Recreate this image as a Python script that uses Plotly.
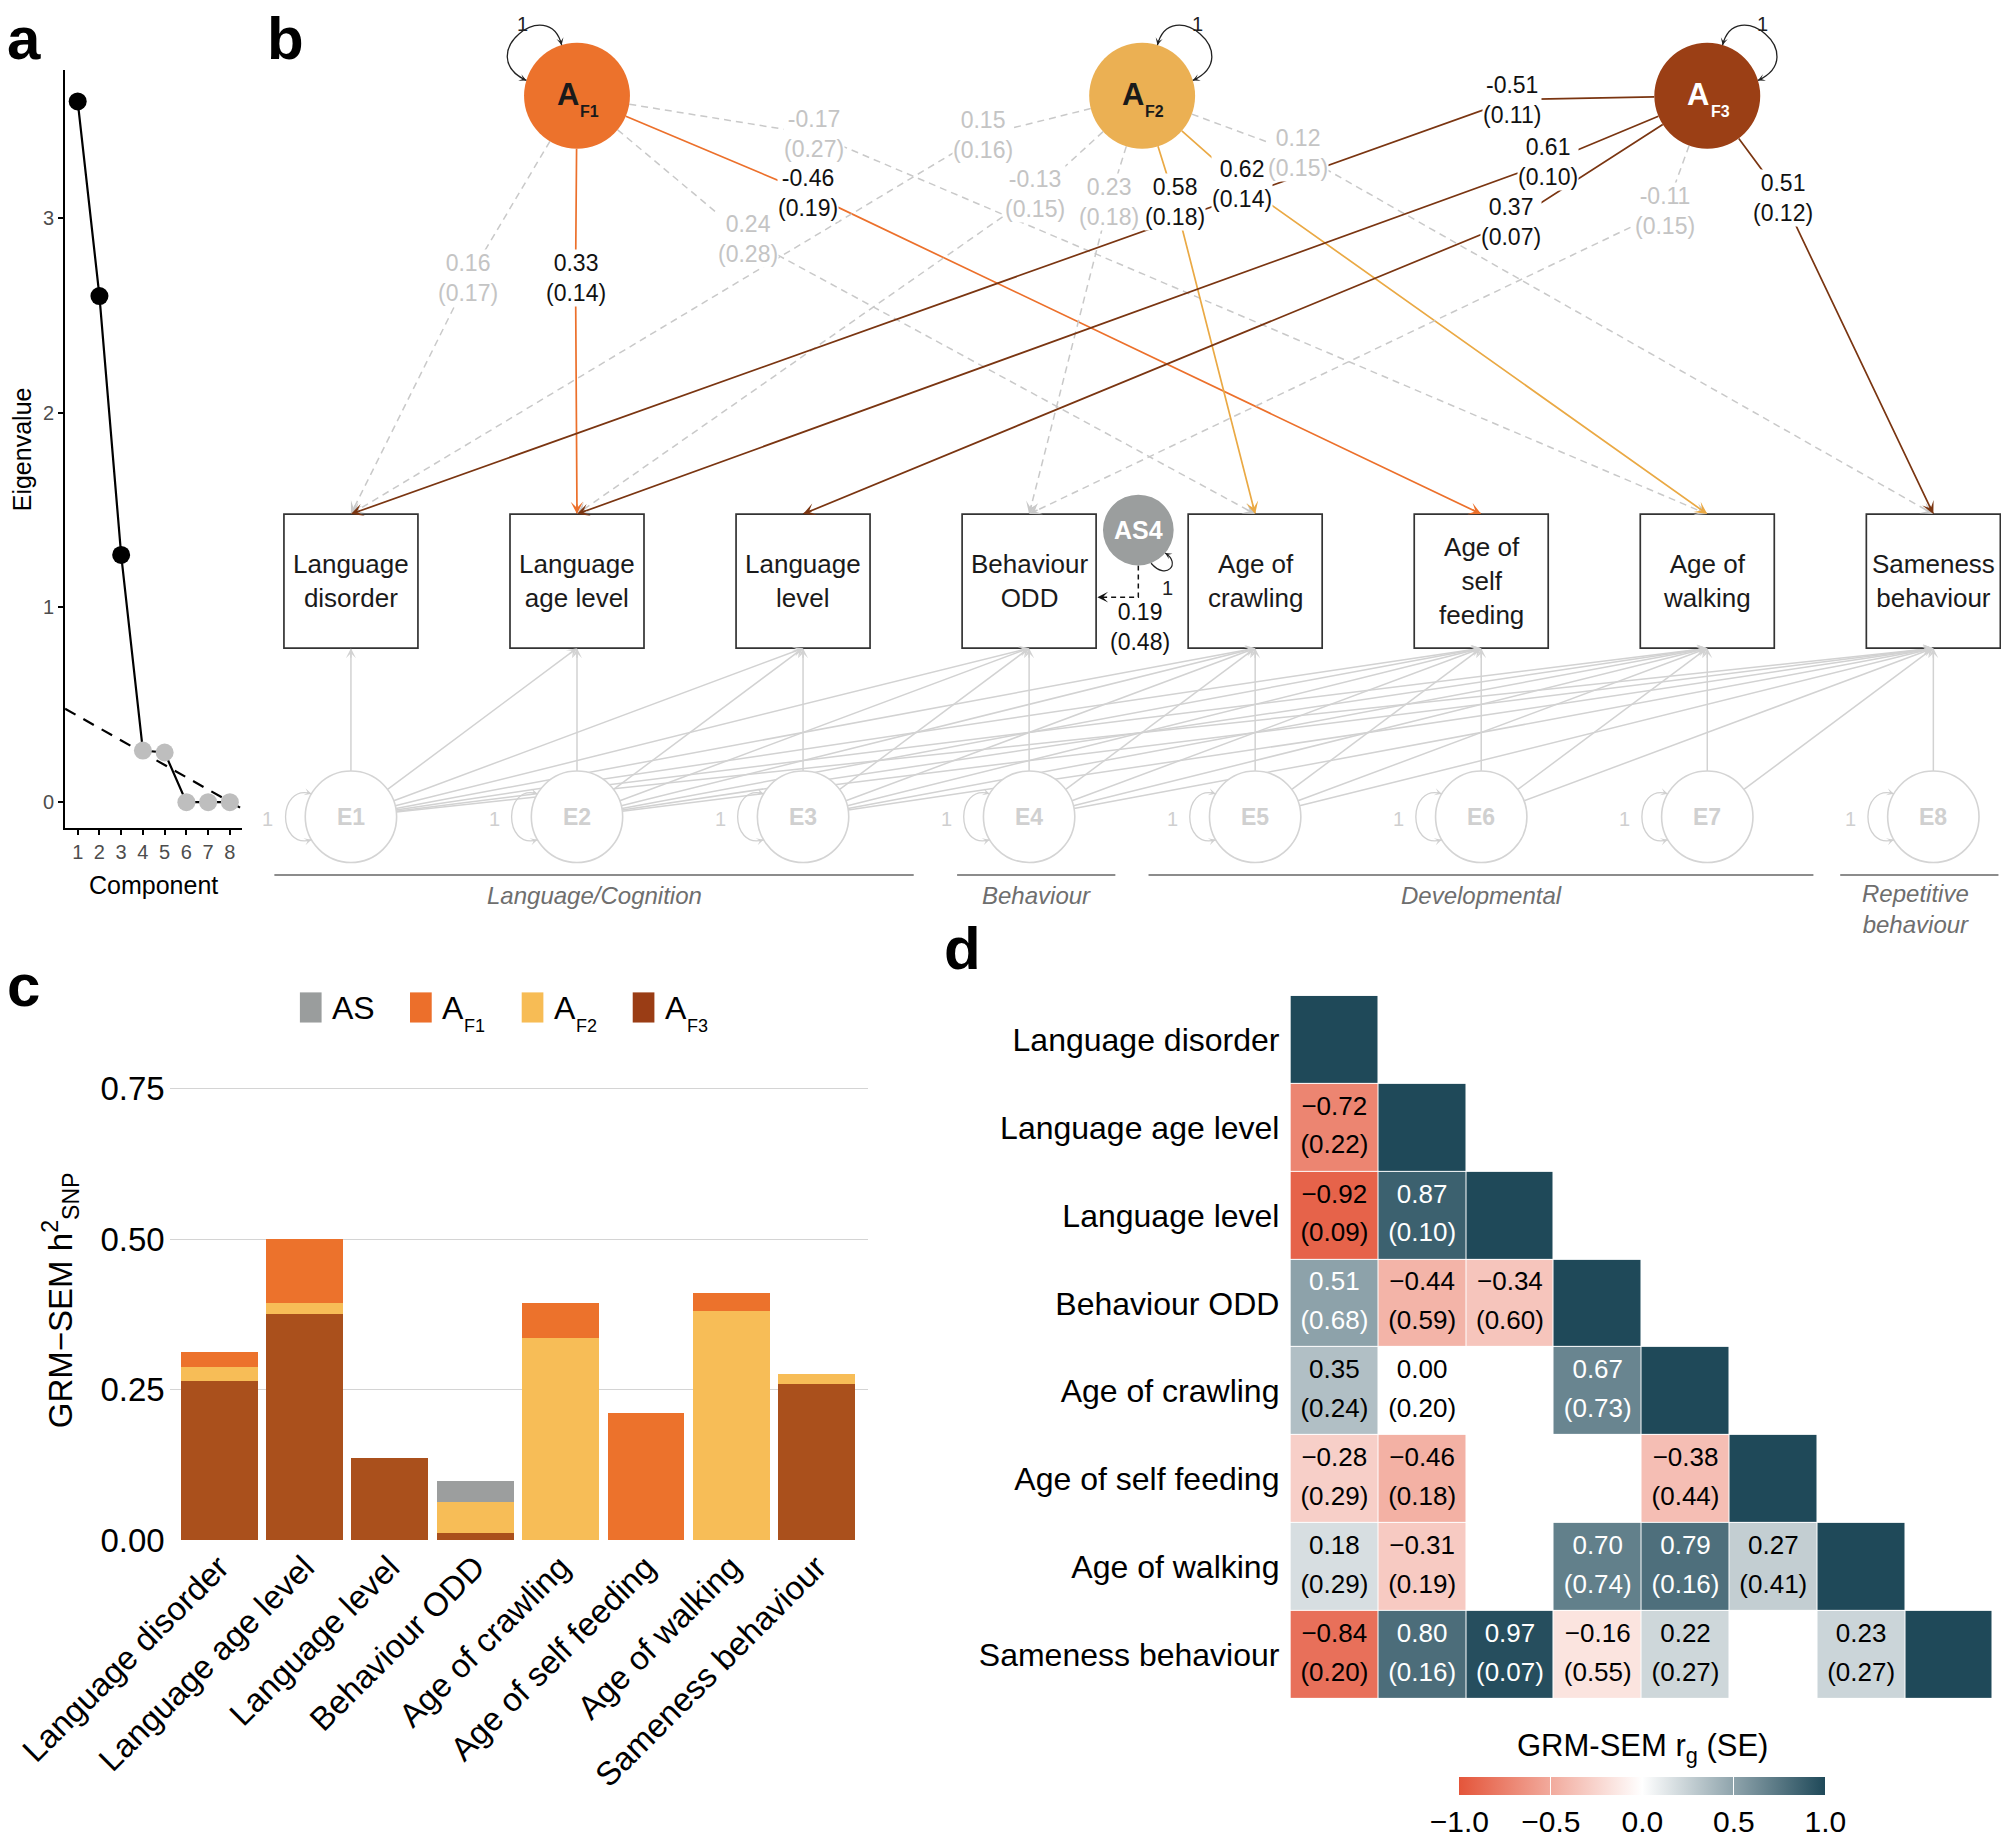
import math
import plotly.graph_objects as go

W, H = 2001, 1843
RW, RH = 1568.0, 1443.0          # reference-layout units (scaled to the figure)


def px(x):
    return x / RW


def py(y):
    return 1.0 - y / RH


FONT = "Liberation Sans, Arial, Helvetica, sans-serif"

# ====================== DATA ======================
# --- panel a: scree plot
components = [1, 2, 3, 4, 5, 6, 7, 8]
eigenvalues = [3.60, 2.60, 1.27, 0.265, 0.255, 0.0, 0.0, 0.0]
n_retained = 3
reference_x = [0.42, 8.5]
reference_y = [0.48, -0.03]

# --- panel b: path diagram
indicator_names = ["Language disorder", "Language age level", "Language level", "Behaviour ODD",
                   "Age of crawling", "Age of self feeding", "Age of walking", "Sameness behaviour"]
box_labels = ["Language<br>disorder", "Language<br>age level", "Language<br>level", "Behaviour<br>ODD",
              "Age of<br>crawling", "Age of<br>self<br>feeding", "Age of<br>walking", "Sameness<br>behaviour"]
factor_subs = ["F1", "F2", "F3"]
load_factor = [0, 0, 0, 0, 0, 1, 1, 1, 1, 1, 1, 2, 2, 2, 2, 2]
load_target = [0, 1, 4, 5, 6, 0, 1, 3, 4, 6, 7, 0, 1, 2, 3, 7]
load_est = [0.16, 0.33, 0.24, -0.46, -0.17, 0.15, -0.13, 0.23, 0.58, 0.62, 0.12,
            -0.51, 0.61, 0.37, -0.11, 0.51]
load_se = [0.17, 0.14, 0.28, 0.19, 0.27, 0.16, 0.15, 0.18, 0.18, 0.14, 0.15,
           0.11, 0.10, 0.07, 0.15, 0.12]
load_sig = [False, True, False, True, False, False, False, False, True, True, False,
            True, True, True, False, True]
specific_name = "AS4"
specific_target = 3
specific_est = 0.19
specific_se = 0.48
group_names = ["Language/Cognition", "Behaviour", "Developmental", "Repetitive<br>behaviour"]

# --- panel c: stacked SNP-h2
h2_AF3 = [0.265, 0.375, 0.137, 0.012, 0.0, 0.0, 0.0, 0.260]
h2_AF2 = [0.022, 0.019, 0.0, 0.052, 0.336, 0.0, 0.381, 0.016]
h2_AF1 = [0.025, 0.106, 0.0, 0.0, 0.058, 0.212, 0.029, 0.0]
h2_AS = [0.0, 0.0, 0.0, 0.034, 0.0, 0.0, 0.0, 0.0]
h2_ticks = [0.0, 0.25, 0.50, 0.75]

# --- panel d: genetic correlations (lower triangle)
rg = [
    [1.00, None, None, None, None, None, None, None],
    [-0.72, 1.00, None, None, None, None, None, None],
    [-0.92, 0.87, 1.00, None, None, None, None, None],
    [0.51, -0.44, -0.34, 1.00, None, None, None, None],
    [0.35, 0.00, None, 0.67, 1.00, None, None, None],
    [-0.28, -0.46, None, None, -0.38, 1.00, None, None],
    [0.18, -0.31, None, 0.70, 0.79, 0.27, 1.00, None],
    [-0.84, 0.80, 0.97, -0.16, 0.22, None, 0.23, 1.00],
]
rg_se = [
    [None] * 8,
    [0.22, None, None, None, None, None, None, None],
    [0.09, 0.10, None, None, None, None, None, None],
    [0.68, 0.59, 0.60, None, None, None, None, None],
    [0.24, 0.20, None, 0.73, None, None, None, None],
    [0.29, 0.18, None, None, 0.44, None, None, None],
    [0.29, 0.19, None, 0.74, 0.16, 0.41, None, None],
    [0.20, 0.16, 0.07, 0.55, 0.27, None, 0.27, None],
]
cbar_ticks = [-1.0, -0.5, 0.0, 0.5, 1.0]

# ====================== STYLE / LAYOUT CONSTANTS ======================
BOX_X0, BOX_DX = 275.0, 177.14
BOX_HW, BOX_TOP, BOX_BOT = 52.5, 402.5, 507.5
FAC_Y, FAC_R = 75.0, 41.5
FAC_SLOT = [1, 3.5, 6]
E_Y, E_R = 639.5, 35.8
AS_X, AS_Y, AS_R = 892.0, 415.0, 27.7
label_xy = [(367, 218), (451, 218), (586, 187), (633, 151), (638, 105),
            (770, 106), (811, 152), (869, 158), (921, 158), (973, 144), (1017, 120),
            (1185, 78), (1213, 127), (1184, 174), (1305, 165), (1397, 155)]
fac_fill = ["#EC722C", "#EBB053", "#9B3F15"]
fac_text = ["#1A1A1A", "#1A1A1A", "#FFFFFF"]
line_col = ["#EC702B", "#EAA944", "#7A3511"]
loop_side = [-1, 1, 1]
NS_COL = "#C9C9C9"
E_COL = "#D2D2D2"
group_spans = [(215, 716), (750, 874), (900, 1421), (1442, 1566)]
group_label_x = [466, 812, 1161, 1501]

bar_col = {"AS": "#9C9E9E", "AF1": "#EC722C", "AF2": "#F7BD57", "AF3": "#AA501C"}
legend_col = ["#9A9D9D", "#EC6F2B", "#F7BC55", "#9A3D15"]
legend_main = ["AS", "A", "A", "A"]
legend_sub = ["", "F1", "F2", "F3"]
legend_sq_x = [235.0, 321.3, 408.8, 495.8]

fig = go.Figure()
shapes = []
anns = []


def ptext(x, y, text, size, color="black", xanchor="center", yanchor="middle", **kw):
    d = dict(x=px(x), y=py(y), xref="paper", yref="paper", text=text, showarrow=False,
             xanchor=xanchor, yanchor=yanchor, font=dict(size=size, color=color))
    d.update(kw)
    anns.append(d)


# ====================== PANEL A ======================
fig.add_trace(go.Scatter(x=reference_x, y=reference_y, mode="lines",
                         line=dict(color="black", width=2.2, dash="12px,9px"),
                         xaxis="x", yaxis="y", hoverinfo="skip", showlegend=False))
fig.add_trace(go.Scatter(x=components, y=eigenvalues, mode="lines+markers",
                         line=dict(color="black", width=2.2),
                         marker=dict(size=18, color=["black" if i < n_retained else "#BEBEBE"
                                                     for i in range(len(components))]),
                         xaxis="x", yaxis="y", hoverinfo="skip", showlegend=False))
ptext(120, 693, "Component", 25)
ptext(17, 352, "Eigenvalue", 25, textangle=-90)

# ====================== PANEL C ======================
x_idx = list(range(len(indicator_names)))
for name, vals in [("AF3", h2_AF3), ("AF2", h2_AF2), ("AF1", h2_AF1), ("AS", h2_AS)]:
    fig.add_trace(go.Bar(x=x_idx, y=vals, name=name, width=0.9,
                         marker=dict(color=bar_col[name], line=dict(width=0)),
                         xaxis="x2", yaxis="y2", hoverinfo="skip", showlegend=False))
# manual legend
for k in range(4):
    x0 = legend_sq_x[k]
    shapes.append(dict(type="rect", xref="paper", yref="paper", x0=px(x0), x1=px(x0 + 17),
                       y0=py(800.6), y1=py(777), fillcolor=legend_col[k], line=dict(width=0)))
    ptext(x0 + 23.5, 789, legend_main[k], 32, xanchor="left")
    if legend_sub[k]:
        ptext(x0 + 41, 803, legend_sub[k], 18, xanchor="left")
ptext(47, 1018, "GRM\u2212SEM h<sup>2</sup><sub>SNP</sub>", 33, textangle=-90)

# ====================== PANEL D ======================
n = len(indicator_names)
fig.add_trace(go.Heatmap(
    z=rg, x=list(range(n)), y=list(range(n)), zmin=-1, zmax=1,
    colorscale=[[0, "#E4553A"], [0.5, "#FFFFFF"], [1, "#1F4959"]],
    xgap=1, ygap=1, hoverinfo="skip", xaxis="x4", yaxis="y4",
    colorbar=dict(orientation="h", x=px(1287), xanchor="center", y=py(1391), yanchor="top",
                  len=287 / RW, lenmode="fraction", thickness=18, outlinewidth=0,
                  xpad=0, ypad=0, tickvals=cbar_ticks,
                  ticktext=[("\u2212" if v < 0 else "") + f"{abs(v):.1f}" for v in cbar_ticks],
                  ticks="inside", ticklen=18, tickcolor="white", tickwidth=1,
                  tickfont=dict(size=30, color="black"))))
vx, vy, vt, vc, sx_, sy_, st, sc = [], [], [], [], [], [], [], []
for i in range(n):
    for j in range(i):
        v = rg[i][j]
        if v is None:
            continue
        col = "white" if v >= 0.5 else "black"
        vx.append(j); vy.append(i - 0.22)
        vt.append(("\u2212" if v < 0 else "") + f"{abs(v):.2f}"); vc.append(col)
        sx_.append(j); sy_.append(i + 0.22)
        st.append(f"({rg_se[i][j]:.2f})"); sc.append(col)
fig.add_trace(go.Scatter(x=vx, y=vy, text=vt, mode="text", textfont=dict(size=26, color=vc),
                         xaxis="x4", yaxis="y4", hoverinfo="skip", showlegend=False))
fig.add_trace(go.Scatter(x=sx_, y=sy_, text=st, mode="text", textfont=dict(size=26, color=sc),
                         xaxis="x4", yaxis="y4", hoverinfo="skip", showlegend=False))
ptext(1287, 1369, "GRM-SEM r<sub>g</sub> (SE)", 31)

# ====================== PANEL B (diagram on full-figure axis x3/y3) ======================
box_x = [BOX_X0 + i * BOX_DX for i in range(n)]
fac_x = [BOX_X0 + s * BOX_DX for s in FAC_SLOT]


def add_path(pts, color, width, dash="solid"):
    p = "M " + " L ".join(f"{x:.2f},{y:.2f}" for x, y in pts)
    shapes.append(dict(type="path", path=p, xref="x3", yref="y3", layer="above",
                       line=dict(color=color, width=width, dash=dash)))


def add_curve(p0, p1, p2, p3, color, width):
    p = (f"M {p0[0]:.2f},{p0[1]:.2f} C {p1[0]:.2f},{p1[1]:.2f} "
         f"{p2[0]:.2f},{p2[1]:.2f} {p3[0]:.2f},{p3[1]:.2f}")
    shapes.append(dict(type="path", path=p, xref="x3", yref="y3", layer="above",
                       line=dict(color=color, width=width)))


def add_head(xh, yh, dx, dy, color, width=1.6, size=1.3, L=11):
    nn = math.hypot(dx, dy)
    ux, uy = dx / nn, dy / nn
    anns.append(dict(x=xh, y=yh, xref="x3", yref="y3", ax=-ux * L, ay=-uy * L, text="",
                     showarrow=True, arrowhead=3, arrowsize=size, arrowwidth=width,
                     arrowcolor=color, standoff=0))


def dtext(x, y, text, size, color, **kw):
    d = dict(x=x, y=y, xref="x3", yref="y3", text=text, showarrow=False,
             xanchor="center", yanchor="middle", font=dict(size=size, color=color))
    d.update(kw)
    anns.append(d)


# residual (Cholesky) paths E_i -> indicator j (j >= i)
for i in range(n):
    for j in range(i, n):
        cx, cy = box_x[i], E_Y
        tx, ty = box_x[j], BOX_BOT
        dx, dy = tx - cx, ty - cy
        nn = math.hypot(dx, dy)
        add_path([(cx + E_R * dx / nn, cy + E_R * dy / nn), (tx, ty)], E_COL, 1.5)
        add_head(tx, ty, dx, dy, E_COL, width=1.4, size=1.2)

# loadings
for k in range(len(load_est)):
    f, t = load_factor[k], load_target[k]
    cx, cy = fac_x[f], FAC_Y
    lx, ly = label_xy[k]
    tx, ty = box_x[t], BOX_TOP
    dx, dy = lx - cx, ly - cy
    nn = math.hypot(dx, dy)
    start = (cx + FAC_R * dx / nn, cy + FAC_R * dy / nn)
    sig = load_sig[k]
    col = line_col[f] if sig else NS_COL
    add_path([start, (lx, ly), (tx, ty)], col, 1.7 if sig else 1.5,
             "solid" if sig else "7px,5px")
    add_head(tx, ty, tx - lx, ty - ly, col, width=1.6, size=1.3)
    txt = ("-" if load_est[k] < 0 else "") + f"{abs(load_est[k]):.2f}<br>({load_se[k]:.2f})"
    dtext(lx, ly, txt, 23, "#111111" if sig else "#C4C4C4", bgcolor="white", borderpad=0)

# specific factor AS4 -> Behaviour ODD
t_right = box_x[specific_target] + BOX_HW
add_path([(AS_X, AS_Y + AS_R), (AS_X, 467.6), (t_right + 2, 467.6)], "#111111", 1.5, "5px,4px")
add_head(t_right + 1, 467.6, -1, 0, "#111111", width=1.5, size=1.2, L=8)
dtext(AS_X + 1, 491, f"{specific_est:.2f}<br>({specific_se:.2f})", 23, "#111111")

# boxes
for i in range(n):
    shapes.append(dict(type="rect", xref="x3", yref="y3", layer="above",
                       x0=box_x[i] - BOX_HW, x1=box_x[i] + BOX_HW, y0=BOX_TOP, y1=BOX_BOT,
                       line=dict(color="#333333", width=1.7), fillcolor="rgba(0,0,0,0)"))
    dtext(box_x[i], 455, box_labels[i], 26, "#1A1A1A")

# residual circles + loops
for i in range(n):
    cx = box_x[i]
    shapes.append(dict(type="circle", xref="x3", yref="y3", layer="above",
                       x0=cx - E_R, x1=cx + E_R, y0=E_Y - E_R, y1=E_Y + E_R,
                       line=dict(color="#D4D4D4", width=1.6), fillcolor="white"))
    dtext(cx, E_Y, f"<b>E{i + 1}</b>", 23, "#D0D0D0")
    p0, p1, p2, p3 = (cx - 31, E_Y - 18), (cx - 58, E_Y - 26), (cx - 58, E_Y + 26), (cx - 31, E_Y + 18)
    add_curve(p0, p1, p2, p3, "#D0D0D0", 1.3)
    add_head(p0[0], p0[1], p0[0] - p1[0], p0[1] - p1[1], "#D0D0D0", width=1.2, size=1.0, L=6)
    add_head(p3[0], p3[1], p3[0] - p2[0], p3[1] - p2[1], "#D0D0D0", width=1.2, size=1.0, L=6)
    dtext(cx - 65, E_Y + 2, "1", 20, "#CFCFCF")

# common factors + loops
for f in range(3):
    cx, s = fac_x[f], loop_side[f]
    shapes.append(dict(type="circle", xref="x3", yref="y3", layer="above",
                       x0=cx - FAC_R, x1=cx + FAC_R, y0=FAC_Y - FAC_R, y1=FAC_Y + FAC_R,
                       line=dict(width=0), fillcolor=fac_fill[f]))
    dtext(cx - 7, FAC_Y - 1, "<b>A</b>", 31, fac_text[f])
    dtext(cx + 10, FAC_Y + 12, f"<b>{factor_subs[f]}</b>", 16, fac_text[f])
    p0 = (cx + s * 12, FAC_Y - 39.7)
    p1 = (cx + s * 22, FAC_Y - 80)
    p2 = (cx + s * 82, FAC_Y - 32)
    p3 = (cx + s * 39.7, FAC_Y - 12)
    add_curve(p0, p1, p2, p3, "#222222", 1.3)
    add_head(p0[0], p0[1], p0[0] - p1[0], p0[1] - p1[1], "#222222", width=1.2, size=1.0, L=6)
    add_head(p3[0], p3[1], p3[0] - p2[0], p3[1] - p2[1], "#222222", width=1.2, size=1.0, L=6)
    dtext(cx + s * 43, FAC_Y - 56, "1", 20, "#222222")

# specific factor circle + loop
shapes.append(dict(type="circle", xref="x3", yref="y3", layer="above",
                   x0=AS_X - AS_R, x1=AS_X + AS_R, y0=AS_Y - AS_R, y1=AS_Y + AS_R,
                   line=dict(width=0), fillcolor="#9B9E9E"))
dtext(AS_X, AS_Y, f"<b>{specific_name}</b>", 25, "white")
q0, q1, q2, q3 = (AS_X + 21, AS_Y + 18), (AS_X + 34, AS_Y + 26), (AS_X + 22, AS_Y + 40), (AS_X + 10, AS_Y + 26)
add_curve(q0, q1, q2, q3, "#222222", 1.2)
add_head(q0[0], q0[1], q0[0] - q1[0], q0[1] - q1[1], "#222222", width=1.1, size=1.0, L=5)
dtext(AS_X + 23, 460, "1", 20, "#222222")

# domain groups
for g in range(4):
    a, b = group_spans[g]
    shapes.append(dict(type="line", xref="x3", yref="y3", layer="above", x0=a, x1=b, y0=685, y1=685,
                       line=dict(color="#8C8C8C", width=2)))
    dtext(group_label_x[g], 701, f"<i>{group_names[g]}</i>", 24, "#6E6E6E",
          yanchor="top" if g == 3 else "middle", yshift=17 if g == 3 else 0)

# invisible trace so the diagram axis exists
fig.add_trace(go.Scatter(x=box_x, y=[E_Y] * n, mode="markers", marker=dict(opacity=0),
                         xaxis="x3", yaxis="y3", hoverinfo="skip", showlegend=False))

# panel letters
for letter, (lx, ly) in zip("abcd", [(4, 30), (208, 30), (4, 772), (738, 743)]):
    ptext(lx, ly, f"<b>{letter}</b>", 60, xanchor="left")

# ====================== LAYOUT ======================
AX = dict(automargin=False)
fig.update_layout(
    template="none",
    width=W, height=H, margin=dict(l=0, r=0, t=0, b=0, pad=0, autoexpand=False),
    paper_bgcolor="white", plot_bgcolor="rgba(0,0,0,0)",
    font=dict(family=FONT, color="black"), showlegend=False, barmode="stack",
    xaxis=dict(domain=[px(51), px(190)], range=[0.42, 8.58], tickvals=components,
               ticks="outside", ticklen=5, tickcolor="black", tickwidth=1.5,
               showline=True, linecolor="black", linewidth=1.8, showgrid=False, zeroline=False,
               tickfont=dict(size=20, color="#4D4D4D"), anchor="y", **AX),
    yaxis=dict(domain=[py(648), py(55)], range=[-0.131, 3.76], tickvals=[0, 1, 2, 3],
               ticks="outside", ticklen=5, tickcolor="black", tickwidth=1.5,
               showline=True, linecolor="black", linewidth=1.8, showgrid=False, zeroline=False,
               tickfont=dict(size=20, color="#4D4D4D"), anchor="x", **AX),
    xaxis2=dict(domain=[px(133), px(680)], range=[-0.58, 7.6], tickvals=x_idx,
                ticktext=indicator_names, tickangle=-45, ticks="", showgrid=False,
                zeroline=False, showline=False, tickfont=dict(size=33, color="black"),
                anchor="y2", **AX),
    yaxis2=dict(domain=[py(1206), py(838)], range=[0, 0.78], tickvals=h2_ticks,
                ticktext=[f"{v:.2f}" for v in h2_ticks], ticks="", showgrid=True,
                gridcolor="#D4D4D4", gridwidth=1.4, zeroline=False, showline=False,
                tickfont=dict(size=33, color="black"), ticklabelstandoff=4, anchor="x2", **AX),
    xaxis3=dict(domain=[0, 1], range=[0, RW], visible=False, anchor="y3", **AX),
    yaxis3=dict(domain=[0, 1], range=[RH, 0], visible=False, anchor="x3", **AX),
    xaxis4=dict(domain=[px(1011.2), px(1561.6)], range=[-0.5, 7.5], visible=False,
                anchor="y4", **AX),
    yaxis4=dict(domain=[py(1330), py(779.7)], range=[7.5, -0.5], tickvals=list(range(n)),
                ticktext=indicator_names, ticks="", showgrid=False, zeroline=False, showline=False,
                tickfont=dict(size=32, color="black"), ticklabelstandoff=10, anchor="x4", **AX),
    shapes=shapes, annotations=anns,
)

fig.write_html("out.html", config={"displayModeBar": False},
               post_script="document.body.style.margin='0px';")
